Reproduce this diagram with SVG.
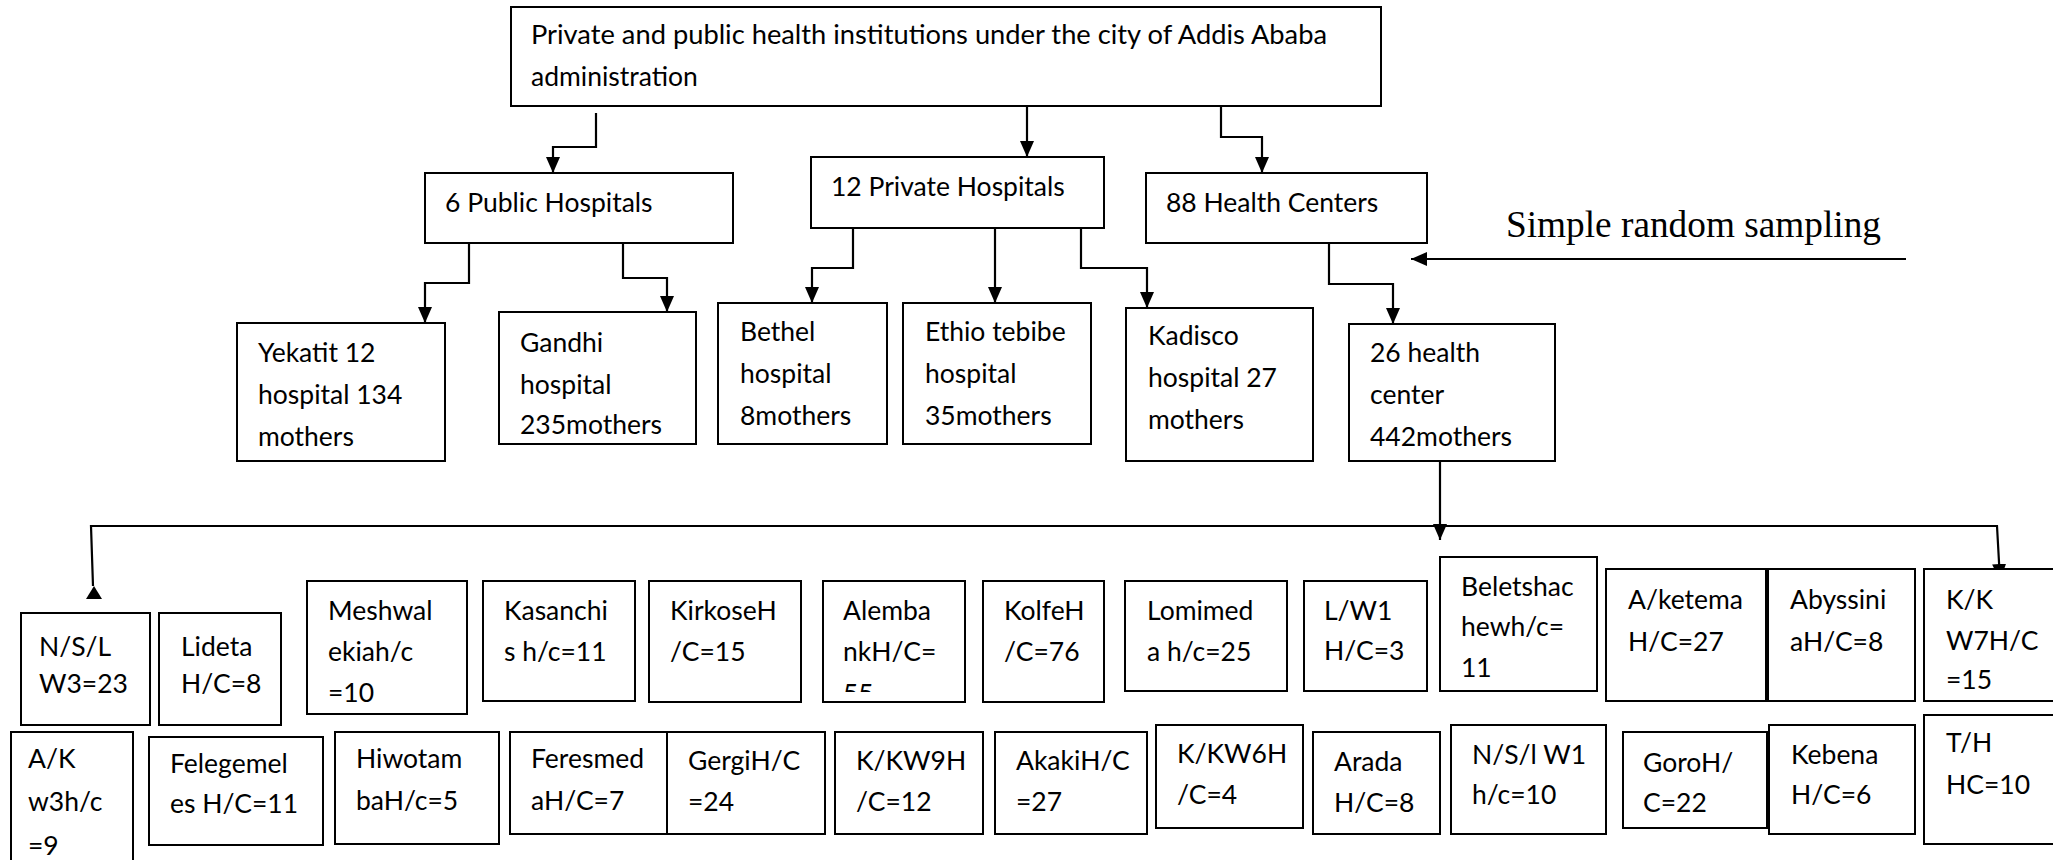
<svg xmlns="http://www.w3.org/2000/svg" width="2053" height="860" viewBox="0 0 2053 860">
<style>
.b{fill:#fff;stroke:#000;stroke-width:2}
.t{font-family:Lato,"Liberation Sans",sans-serif;font-size:26.5px;fill:#000}
.c{fill:none;stroke:#000;stroke-width:2.2}
.srs{font-family:"Liberation Serif","Times New Roman",serif;font-size:37px;fill:#000}
</style>
<defs>
<marker id="ah" markerUnits="userSpaceOnUse" markerWidth="16" markerHeight="14" refX="16" refY="7" orient="auto">
<path d="M0,0 L16,7 L0,14 z" fill="#000"/>
</marker>
<clipPath id="clipAlemba"><rect x="823" y="581" width="142" height="111"/></clipPath>
</defs>
<rect width="2053" height="860" fill="#fff"/>

<g id="connectors">
<path class="c" d="M596,113 V147 H553 V173" marker-end="url(#ah)"/>
<path class="c" d="M1027,106 V157" marker-end="url(#ah)"/>
<path class="c" d="M1221,106 V137 H1262 V173" marker-end="url(#ah)"/>
<path class="c" d="M469,243 V283 H425 V323" marker-end="url(#ah)"/>
<path class="c" d="M623,243 V278 H667 V312" marker-end="url(#ah)"/>
<path class="c" d="M853,228 V268 H812 V303" marker-end="url(#ah)"/>
<path class="c" d="M995,228 V303" marker-end="url(#ah)"/>
<path class="c" d="M1081,228 V268 H1147 V308" marker-end="url(#ah)"/>
<path class="c" d="M1329,243 V284 H1393 V324" marker-end="url(#ah)"/>
<path class="c" d="M1906,259 H1411" marker-end="url(#ah)"/>
<path class="c" d="M1440,461 V540" marker-end="url(#ah)"/>
<path class="c" d="M93,586 L91,526 H1997 L2000,580" marker-end="url(#ah)"/>
<polygon points="94,586 86,599 102,599" fill="#000"/>
</g>

<text class="srs" x="1506" y="237" textLength="375" lengthAdjust="spacingAndGlyphs">Simple random sampling</text>

<g id="n-root"><rect class="b" x="511" y="7" width="870" height="99"/>
<text class="t" x="531" y="44" textLength="796" lengthAdjust="spacingAndGlyphs">Private and public health institutions under the city of Addis Ababa</text>
<text class="t" x="531" y="86">administration</text></g>

<g id="n-public"><rect class="b" x="425" y="173" width="308" height="70"/><text class="t" x="445" y="212">6 Public Hospitals</text></g>
<g id="n-private"><rect class="b" x="811" y="157" width="293" height="71"/><text class="t" x="831" y="196">12 Private Hospitals</text></g>
<g id="n-hc"><rect class="b" x="1146" y="173" width="281" height="70"/><text class="t" x="1166" y="212">88 Health Centers</text></g>

<g id="n-yekatit"><rect class="b" x="237" y="323" width="208" height="138"/>
<text class="t" x="258" y="362">Yekatit 12</text><text class="t" x="258" y="404">hospital 134</text><text class="t" x="258" y="446">mothers</text></g>
<g id="n-gandhi"><rect class="b" x="499" y="312" width="197" height="132"/>
<text class="t" x="520" y="352">Gandhi</text><text class="t" x="520" y="394">hospital</text><text class="t" x="520" y="434">235mothers</text></g>
<g id="n-bethel"><rect class="b" x="718" y="303" width="169" height="141"/>
<text class="t" x="740" y="341">Bethel</text><text class="t" x="740" y="383">hospital</text><text class="t" x="740" y="425">8mothers</text></g>
<g id="n-ethio"><rect class="b" x="903" y="303" width="188" height="141"/>
<text class="t" x="925" y="341">Ethio tebibe</text><text class="t" x="925" y="383">hospital</text><text class="t" x="925" y="425">35mothers</text></g>
<g id="n-kadisco"><rect class="b" x="1126" y="308" width="187" height="153"/>
<text class="t" x="1148" y="345">Kadisco</text><text class="t" x="1148" y="387">hospital 27</text><text class="t" x="1148" y="429">mothers</text></g>
<g id="n-hc26"><rect class="b" x="1349" y="324" width="206" height="137"/>
<text class="t" x="1370" y="362">26 health</text><text class="t" x="1370" y="404">center</text><text class="t" x="1370" y="446">442mothers</text></g>

<g id="n-nsl3"><rect class="b" x="21" y="613" width="129" height="112"/><text class="t" x="39" y="656">N/S/L</text><text class="t" x="39" y="693">W3=23</text></g>
<g id="n-lideta"><rect class="b" x="159" y="613" width="122" height="112"/><text class="t" x="181" y="656">Lideta</text><text class="t" x="181" y="693">H/C=8</text></g>
<g id="n-meshwal"><rect class="b" x="307" y="581" width="160" height="133"/><text class="t" x="328" y="620">Meshwal</text><text class="t" x="328" y="661">ekiah/c</text><text class="t" x="328" y="702">=10</text></g>
<g id="n-kasanchi"><rect class="b" x="483" y="581" width="152" height="120"/><text class="t" x="504" y="620">Kasanchi</text><text class="t" x="504" y="661">s h/c=11</text></g>
<g id="n-kirkose"><rect class="b" x="649" y="581" width="152" height="121"/><text class="t" x="670" y="620">KirkoseH</text><text class="t" x="670" y="661">/C=15</text></g>
<g id="n-alemba"><rect class="b" x="823" y="581" width="142" height="121"/><text class="t" x="843" y="620">Alemba</text><text class="t" x="843" y="661">nkH/C=</text><text class="t" x="843" y="703" clip-path="url(#clipAlemba)">55</text></g>
<g id="n-kolfe"><rect class="b" x="983" y="581" width="121" height="121"/><text class="t" x="1004" y="620">KolfeH</text><text class="t" x="1004" y="661">/C=76</text></g>
<g id="n-lomimed"><rect class="b" x="1125" y="581" width="162" height="110"/><text class="t" x="1147" y="620">Lomimed</text><text class="t" x="1147" y="661">a h/c=25</text></g>
<g id="n-lw1"><rect class="b" x="1304" y="581" width="123" height="110"/><text class="t" x="1324" y="620">L/W1</text><text class="t" x="1324" y="660">H/C=3</text></g>
<g id="n-beletshac"><rect class="b" x="1440" y="557" width="157" height="134"/><text class="t" x="1461" y="596">Beletshac</text><text class="t" x="1461" y="636">hewh/c=</text><text class="t" x="1461" y="677">11</text></g>
<g id="n-aketema"><rect class="b" x="1606" y="569" width="161" height="132"/><text class="t" x="1628" y="609">A/ketema</text><text class="t" x="1628" y="651">H/C=27</text></g>
<g id="n-abyssinia"><rect class="b" x="1767" y="569" width="148" height="132"/><line x1="1767" y1="569" x2="1767" y2="701" stroke="#000" stroke-width="4"/><text class="t" x="1790" y="609">Abyssini</text><text class="t" x="1790" y="651">aH/C=8</text></g>
<g id="n-kkw7"><rect class="b" x="1924" y="569" width="140" height="132"/><text class="t" x="1946" y="609">K/K</text><text class="t" x="1946" y="650">W7H/C</text><text class="t" x="1946" y="689">=15</text></g>

<g id="n-akw3"><rect class="b" x="11" y="732" width="122" height="140"/><text class="t" x="28" y="768">A/K</text><text class="t" x="28" y="811">w3h/c</text><text class="t" x="28" y="855">=9</text></g>
<g id="n-felege"><rect class="b" x="149" y="737" width="174" height="108"/><text class="t" x="170" y="773">Felegemel</text><text class="t" x="170" y="813">es H/C=11</text></g>
<g id="n-hiwot"><rect class="b" x="335" y="732" width="164" height="112"/><text class="t" x="356" y="768">Hiwotam</text><text class="t" x="356" y="810">baH/c=5</text></g>
<g id="n-feres"><rect class="b" x="510" y="732" width="171" height="102"/><text class="t" x="531" y="768">Feresmed</text><text class="t" x="531" y="810">aH/C=7</text></g>
<g id="n-gergi"><rect class="b" x="667" y="732" width="158" height="102"/><text class="t" x="688" y="770">GergiH/C</text><text class="t" x="688" y="811">=24</text></g>
<g id="n-kkw9"><rect class="b" x="835" y="732" width="148" height="102"/><text class="t" x="856" y="770">K/KW9H</text><text class="t" x="856" y="811">/C=12</text></g>
<g id="n-akaki"><rect class="b" x="995" y="732" width="152" height="102"/><text class="t" x="1016" y="770">AkakiH/C</text><text class="t" x="1016" y="811">=27</text></g>
<g id="n-kkw6"><rect class="b" x="1156" y="725" width="147" height="103"/><text class="t" x="1177" y="763">K/KW6H</text><text class="t" x="1177" y="804">/C=4</text></g>
<g id="n-arada"><rect class="b" x="1313" y="732" width="127" height="102"/><text class="t" x="1334" y="771">Arada</text><text class="t" x="1334" y="812">H/C=8</text></g>
<g id="n-nslw1"><rect class="b" x="1451" y="725" width="155" height="109"/><text class="t" x="1472" y="764">N/S/l W1</text><text class="t" x="1472" y="804">h/c=10</text></g>
<g id="n-goro"><rect class="b" x="1623" y="732" width="144" height="96"/><text class="t" x="1643" y="772">GoroH/</text><text class="t" x="1643" y="812">C=22</text></g>
<g id="n-kebena"><rect class="b" x="1769" y="725" width="146" height="109"/><text class="t" x="1791" y="764">Kebena</text><text class="t" x="1791" y="804">H/C=6</text></g>
<g id="n-th"><rect class="b" x="1924" y="715" width="140" height="129"/><text class="t" x="1946" y="752">T/H</text><text class="t" x="1946" y="794">HC=10</text></g>
</svg>
